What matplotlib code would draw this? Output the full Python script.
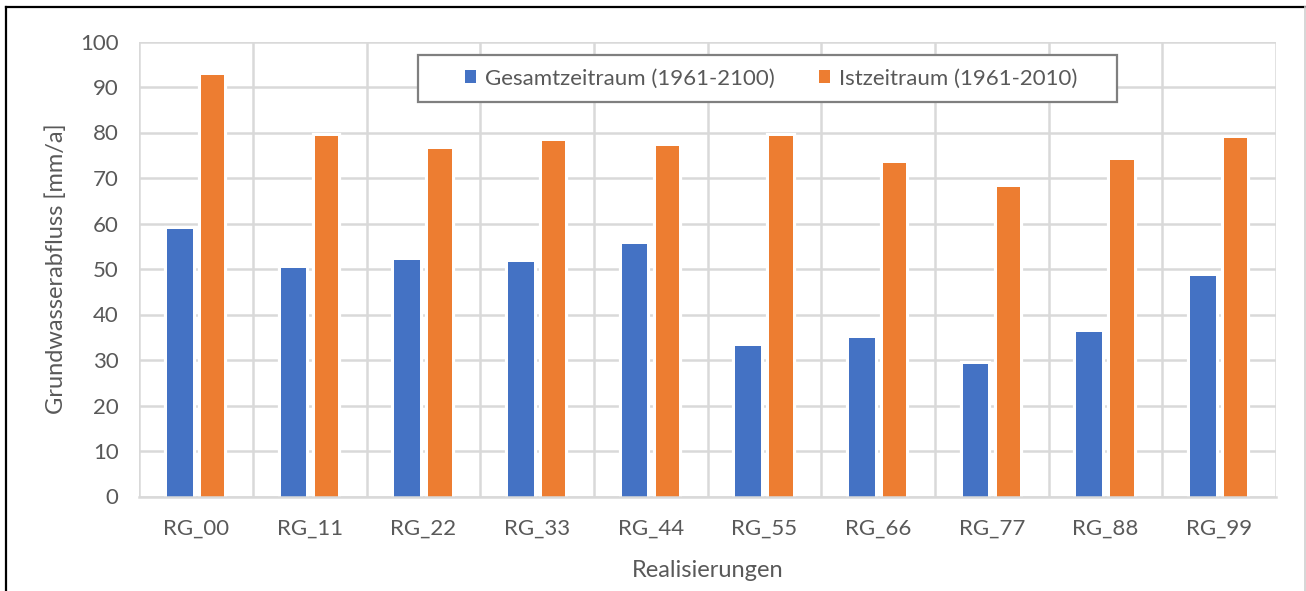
import numpy as np
import matplotlib
matplotlib.use("Agg")
import matplotlib.pyplot as plt
import matplotlib.patheffects as pe
from matplotlib.patches import Rectangle
from matplotlib.lines import Line2D

OUTPUT = "out.png"

CATEGORIES = ["RG_00", "RG_11", "RG_22", "RG_33", "RG_44",
              "RG_55", "RG_66", "RG_77", "RG_88", "RG_99"]
GESAMT = [58.8, 50.2, 52.0, 51.6, 55.6, 33.0, 34.8, 29.1, 36.2, 48.5]
IST    = [92.6, 79.3, 76.3, 78.2, 77.1, 79.2, 73.4, 68.0, 73.9, 78.7]
LABELS = ["Gesamtzeitraum (1961-2100)", "Istzeitraum (1961-2010)"]
Y_TICKS = list(range(0, 101, 10))

BLUE   = "#4472C4"
ORANGE = "#ED7D31"
GRID   = "#D9D9D9"
TEXT   = "#595959"
FONT   = ["Lato", "DejaVu Sans"]

plt.rcParams["font.family"] = FONT

W, H = 1306, 591


def px(x, y):
    # pixel position (from top-left) -> figure fraction
    return x / W, 1 - y / H


def main():
    fig = plt.figure(figsize=(W / 100, H / 100), dpi=100)
    ax = fig.add_axes([139.3 / W, 1 - 496.5 / H, (1276 - 139.3) / W, (496.5 - 41.5) / H])

    x = np.arange(len(CATEGORIES))
    halo = [pe.withStroke(linewidth=4.5, foreground="white")]
    ax.bar(x - 0.144, GESAMT, width=0.225, color=BLUE, linewidth=0,
           zorder=2, path_effects=halo, label=LABELS[0])
    ax.bar(x + 0.145, IST, width=0.205, color=ORANGE, linewidth=0,
           zorder=2, path_effects=halo, label=LABELS[1])

    ax.set_xlim(-0.5, len(CATEGORIES) - 0.5)
    ax.set_ylim(0, 100)
    ax.set_yticks(Y_TICKS)
    ax.set_xticks(x)
    ax.set_xticklabels(CATEGORIES)

    # grid: horizontal at ticks, vertical between categories
    ax.set_xticks(np.arange(-0.5, len(CATEGORIES)), minor=True)
    ax.yaxis.grid(True, color=GRID, linewidth=1.8, zorder=0)
    ax.xaxis.grid(True, which="minor", color=GRID, linewidth=1.8, zorder=0)
    ax.set_axisbelow(True)

    for side in ["top", "left", "right"]:
        ax.spines[side].set_visible(False)
    ax.spines["bottom"].set_color(GRID)
    ax.spines["bottom"].set_linewidth(1.8)
    ax.spines["bottom"].set_zorder(3)

    ax.tick_params(axis="both", which="both", length=0, labelsize=16,
                   labelcolor=TEXT)
    ax.tick_params(axis="y", pad=15)
    ax.tick_params(axis="x", pad=16)

    ax.set_ylabel("Grundwasserabfluss [mm/a]", fontsize=17, color=TEXT,
                  labelpad=9)
    ax.set_xlabel("Realisierungen", fontsize=17, color=TEXT, labelpad=15)

    # legend box
    x0, y0 = px(418, 101.7)
    x1, y1 = px(1117, 55)
    fig.add_artist(Rectangle((x0, y0), x1 - x0, y1 - y0, transform=fig.transFigure,
                             facecolor="white", edgecolor="#7F7F7F",
                             linewidth=1.6, zorder=4))
    cx, cy = px(771, 78.5)
    leg = fig.legend(loc="center", bbox_to_anchor=(cx, cy), ncol=2,
                     frameon=False, fontsize=16, handlelength=0.5,
                     handleheight=0.5, handletextpad=0.4, columnspacing=2.0)
    leg.set_zorder(5)
    for t in leg.get_texts():
        t.set_color(TEXT)

    # outer frame
    fig.add_artist(Line2D([px(6, 0)[0]] * 2, [px(0, 7)[1], 0],
                          color="black", linewidth=1.6))
    fig.add_artist(Line2D([px(6, 0)[0], px(1306, 0)[0]], [px(0, 7)[1]] * 2,
                          color="black", linewidth=1.6))
    fig.add_artist(Line2D([px(1305, 0)[0]] * 2, [px(0, 7)[1], 0],
                          color="#D0D0D0", linewidth=1.2))

    fig.savefig(OUTPUT, dpi=100)


if __name__ == "__main__":
    main()
